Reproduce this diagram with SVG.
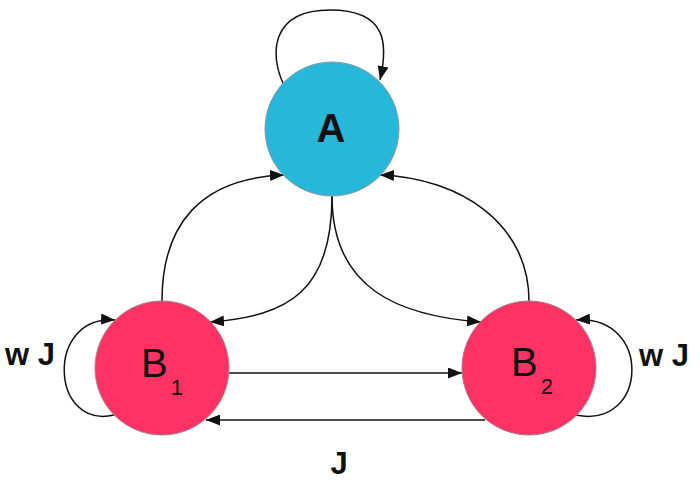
<svg xmlns="http://www.w3.org/2000/svg" width="700" height="482" viewBox="0 0 700 482">
<style>
.edge{fill:none;stroke:#111;stroke-width:1.5;marker-end:url(#arr)}
.nodeA{fill:#27B7DB;stroke:#8a9aa0;stroke-width:1}
.nodeB{fill:#FE3263;stroke:#a0808a;stroke-width:1}
.lbl{font-family:"Liberation Sans",Arial,sans-serif;fill:#111}
.bold{font-weight:bold}
</style>
<defs>
<marker id="arr" markerUnits="userSpaceOnUse" markerWidth="15" markerHeight="11" refX="14" refY="5.5" orient="auto">
<path d="M0,0 L14,5.5 L0,11 z" fill="#111"/>
</marker>
</defs>
<rect width="700" height="482" fill="#fff"/>
<g id="connectors">
<path class="edge" d="M283,83 C270,55 270,10 330,10 C388,10 388,45 380,80"/>
<path class="edge" d="M162,301 C162,225 200,178 284,175"/>
<path class="edge" d="M529,301 C529,225 462,178 380,175"/>
<path class="edge" d="M332,196 C332,290 290,316 210,322"/>
<path class="edge" d="M332,196 C332,290 400,316 481,322"/>
<path class="edge" d="M229,373 L462,373"/>
<path class="edge" d="M485,420 L206,420"/>
<path class="edge" d="M114,415 C50,430 45,315 115,320"/>
<path class="edge" d="M576,415 C648,430 653,315 576,320"/>
</g>
<g id="A">
<circle class="nodeA" cx="332" cy="129" r="67"/>
<text class="lbl bold" x="331" y="142" font-size="40" text-anchor="middle">A</text>
</g>
<g id="B1">
<circle class="nodeB" cx="162" cy="368" r="67"/>
<text class="lbl" x="141" y="377" font-size="40">B<tspan font-size="22" dy="18" dx="3">1</tspan></text>
</g>
<g id="B2">
<circle class="nodeB" cx="529" cy="368" r="67"/>
<text class="lbl" x="511" y="376" font-size="40">B<tspan font-size="22" dy="18" dx="3">2</tspan></text>
</g>
<g id="labels">
<text class="lbl bold" x="5" y="365" font-size="31">w J</text>
<text class="lbl bold" x="639" y="366" font-size="31">w J</text>
<text class="lbl bold" x="339" y="474" font-size="31" text-anchor="middle">J</text>
</g>
</svg>
